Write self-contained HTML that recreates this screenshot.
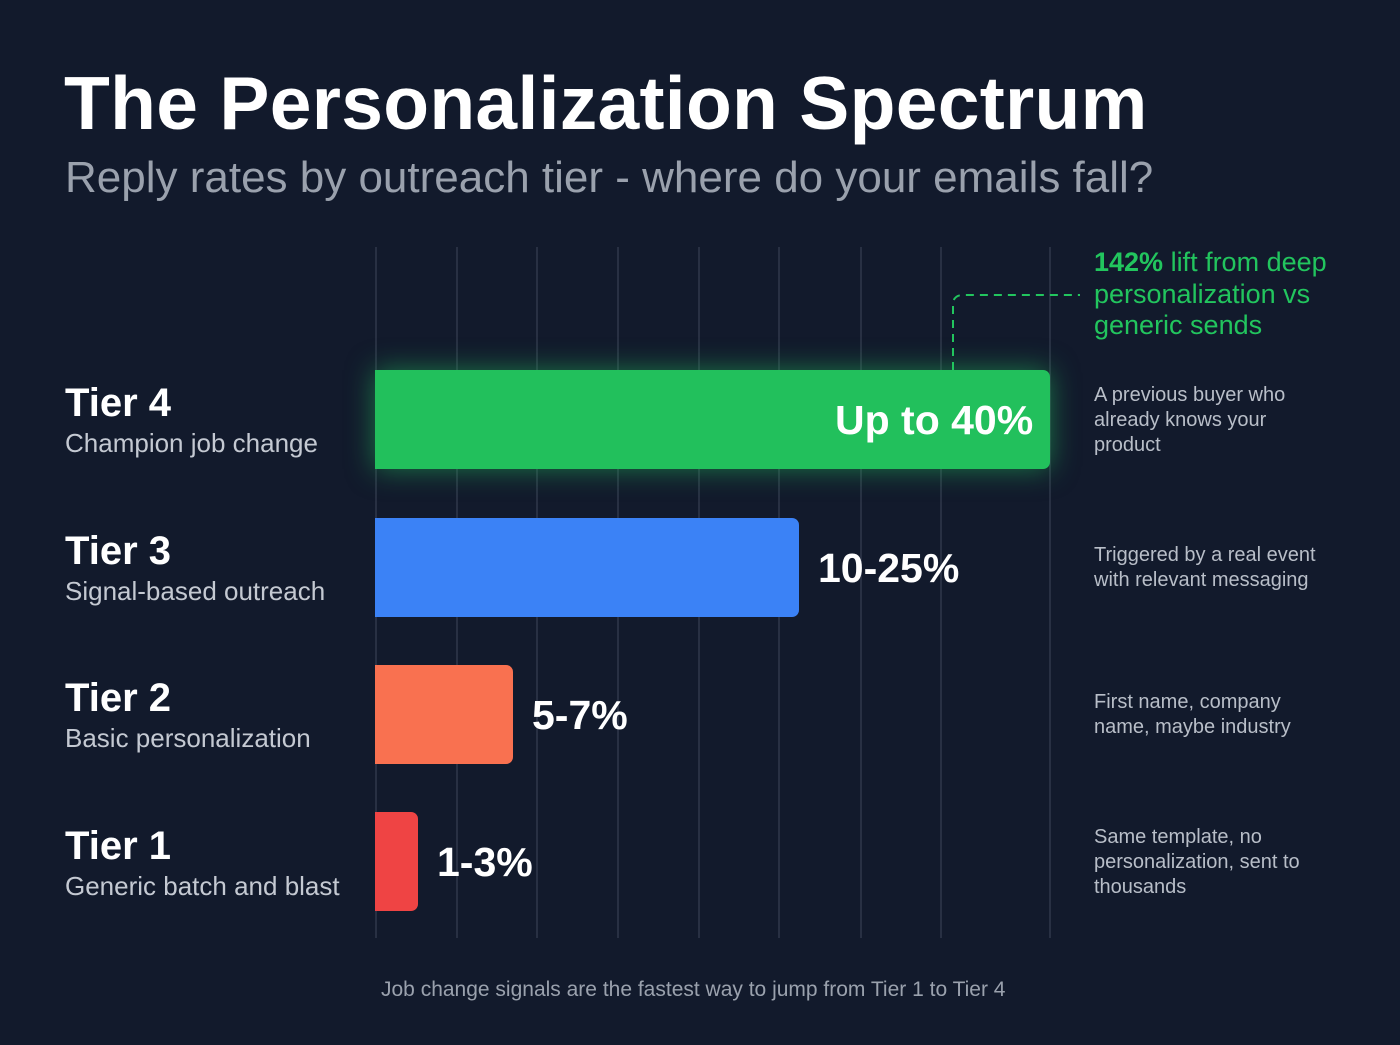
<!DOCTYPE html>
<html><head><meta charset="utf-8"><style>
body{margin:0;width:1400px;height:1045px;background:#121a2c;font-family:"Liberation Sans",sans-serif;position:relative;overflow:hidden}
.a{position:absolute;white-space:nowrap}
.g{position:absolute;top:247px;height:691px;width:1.5px;background:#283043}
.bar{position:absolute;left:375px;height:99px;border-radius:0 7px 7px 0}
.tn{font-size:40px;font-weight:bold;color:#fff;left:65px}
.ts{font-size:26px;color:#c4c9d2;left:65px}
.v{font-size:41px;font-weight:bold;color:#fff}
.d{font-size:20px;color:#b8bec8;left:1094px;line-height:25px;white-space:normal;width:225px}
</style></head><body>
<div class="a" style="left:64px;top:60px;font-size:75px;font-weight:bold;color:#fff;letter-spacing:0.3px">The Personalization Spectrum</div>
<div class="a" style="left:65px;top:153px;font-size:44px;color:#9aa1ad">Reply rates by outreach tier - where do your emails fall?</div>
<div class="g" style="left:375px"></div><div class="g" style="left:456px"></div><div class="g" style="left:536px"></div><div class="g" style="left:617px"></div><div class="g" style="left:698px"></div><div class="g" style="left:778px"></div><div class="g" style="left:860px"></div><div class="g" style="left:940px"></div><div class="g" style="left:1049px"></div>
<svg class="a" style="left:940px;top:285px" width="150" height="90"><path d="M13 85 V20 Q13 10 23 10 H140" fill="none" stroke="#22c55e" stroke-width="2" stroke-dasharray="8 6"/></svg>
<div class="bar" style="top:370px;width:675px;background:#22c05c;box-shadow:0 0 28px rgba(34,197,94,0.55)"></div>
<div class="bar" style="top:518px;width:424px;background:#3b82f6"></div>
<div class="bar" style="top:665px;width:138px;background:#f97150"></div>
<div class="bar" style="top:812px;width:43px;background:#ef4444"></div>
<div class="a v" style="left:835px;top:397px">Up to 40%</div>
<div class="a v" style="left:818px;top:545px">10-25%</div>
<div class="a v" style="left:532px;top:692px">5-7%</div>
<div class="a v" style="left:437px;top:839px">1-3%</div>
<div class="a tn" style="top:381px">Tier 4</div><div class="a ts" style="top:428px">Champion job change</div>
<div class="a tn" style="top:529px">Tier 3</div><div class="a ts" style="top:576px">Signal-based outreach</div>
<div class="a tn" style="top:676px">Tier 2</div><div class="a ts" style="top:723px">Basic personalization</div>
<div class="a tn" style="top:824px">Tier 1</div><div class="a ts" style="top:871px">Generic batch and blast</div>
<div class="a" style="left:1094px;top:247px;font-size:27px;line-height:31.5px;color:#22c55e;white-space:normal;width:300px"><b>142%</b> lift from deep personalization vs generic sends</div>
<div class="a d" style="top:383px">A previous buyer who already knows your product</div>
<div class="a d" style="top:543px;width:250px">Triggered by a real event with relevant messaging</div>
<div class="a d" style="top:690px;width:215px">First name, company name, maybe industry</div>
<div class="a d" style="top:825px;width:240px">Same template, no personalization, sent to thousands</div>
<div class="a" style="left:381px;top:978px;font-size:21px;color:#9aa1ad">Job change signals are the fastest way to jump from Tier 1 to Tier 4</div>
</body></html>
